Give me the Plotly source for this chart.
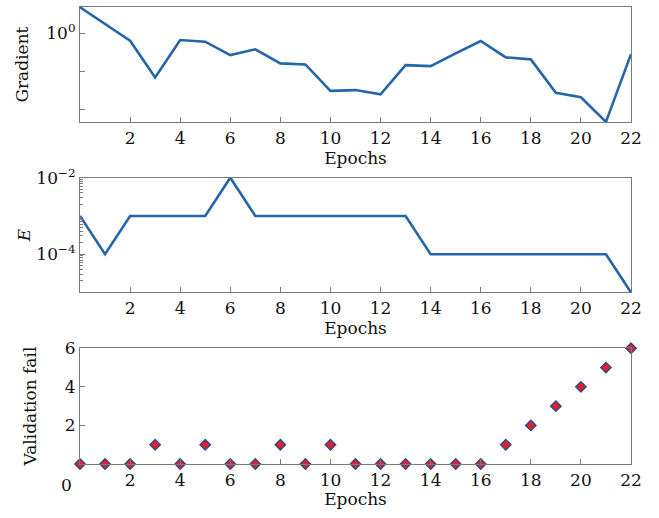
import plotly.graph_objects as go
from plotly.subplots import make_subplots

epochs = list(range(23))
gradient = [2.18, 1.31, 0.792, 0.261, 0.809, 0.769, 0.514, 0.611, 0.399, 0.387,
            0.174, 0.178, 0.157, 0.379, 0.368, 0.541, 0.785, 0.479, 0.451, 0.164,
            0.143, 0.068, 0.529]
mu = [1e-3, 1e-4, 1e-3, 1e-3, 1e-3, 1e-3, 1e-2, 1e-3, 1e-3, 1e-3,
      1e-3, 1e-3, 1e-3, 1e-3, 1e-4, 1e-4, 1e-4, 1e-4, 1e-4, 1e-4,
      1e-4, 1e-4, 1e-5]
val_fail = [0, 0, 0, 1, 0, 1, 0, 0, 1, 0, 1, 0, 0, 0, 0, 0, 0, 1, 2, 3, 4, 5, 6]
x_ticks = list(range(2, 23, 2))

FONT = "DejaVu Serif"
TXT = "#111111"
AX = "#7a7a7a"
BLUE = "#2566a8"
FS = 17

fig = make_subplots(rows=3, cols=1, shared_xaxes=False, vertical_spacing=0.1)

fig.add_trace(go.Scatter(x=epochs, y=gradient, mode="lines",
                         line=dict(color=BLUE, width=2.6), cliponaxis=False,
                         showlegend=False), row=1, col=1)
fig.add_trace(go.Scatter(x=epochs, y=mu, mode="lines",
                         line=dict(color=BLUE, width=2.6), cliponaxis=False,
                         showlegend=False), row=2, col=1)
fig.add_trace(go.Scatter(x=epochs, y=val_fail, mode="markers",
                         marker=dict(symbol="diamond", size=8, color="#e0202c",
                                     line=dict(color="#2b4a8a", width=1.4)),
                         cliponaxis=False, showlegend=False), row=3, col=1)

xcommon = dict(range=[0, 22], tickvals=x_ticks, ticks="inside", ticklen=5,
               tickcolor=AX, showline=True, linecolor=AX, linewidth=1.2,
               mirror=True, showgrid=False, zeroline=False, automargin=False,
               tickfont=dict(family=FONT, size=FS, color=TXT),
               title=dict(text="Epochs", font=dict(family=FONT, size=FS, color=TXT),
                          standoff=2))
ycommon = dict(ticks="inside", ticklen=5, tickcolor=AX, showline=True,
               linecolor=AX, linewidth=1.2, mirror=True, showgrid=False,
               zeroline=False, automargin=False,
               tickfont=dict(family=FONT, size=FS, color=TXT))

fig.update_xaxes(**xcommon)

fig.update_yaxes(**ycommon, row=1, col=1, type="log", range=[-1.171, 0.342],
                 tickvals=[1], ticktext=["10<sup>0</sup>"],
                 minor=dict(tickvals=[10 ** -0.5, 0.1], ticks="inside", ticklen=5,
                            tickcolor=AX),
                 title=dict(text="Gradient", font=dict(family=FONT, size=FS, color=TXT),
                            standoff=13))
minor_e = [k * 10 ** p for p in (-5, -4, -3) for k in range(2, 10)]
fig.update_yaxes(**ycommon, row=2, col=1, type="log", range=[-5, -2],
                 tickvals=[1e-4, 1e-2], ticktext=["10<sup>−4</sup>", "10<sup>−2</sup>"],
                 minor=dict(tickvals=minor_e, ticks="inside", ticklen=3, tickcolor=AX),
                 title=dict(text="<i>E</i>", font=dict(family=FONT, size=FS, color=TXT),
                            standoff=1))
fig.update_yaxes(**ycommon, row=3, col=1, range=[0, 6], tickvals=[2, 4, 6],
                 title=dict(text="Validation fail", font=dict(family=FONT, size=FS, color=TXT),
                            standoff=23))

fig.update_layout(
    width=659, height=518,
    margin=dict(l=80, r=28, t=7, b=54),
    paper_bgcolor="white", plot_bgcolor="white",
    xaxis=dict(domain=[0, 1]),
    yaxis=dict(domain=[0.748, 1.0]),
    yaxis2=dict(domain=[0.3753, 0.6265]),
    yaxis3=dict(domain=[0.0, 0.2532]),
)

fig.add_annotation(text="0", x=0, y=0, xref="x3", yref="y3", showarrow=False,
                   xanchor="right", yanchor="top", xshift=-6, yshift=-9,
                   font=dict(family=FONT, size=FS, color=TXT))

fig.write_html("out.html")
